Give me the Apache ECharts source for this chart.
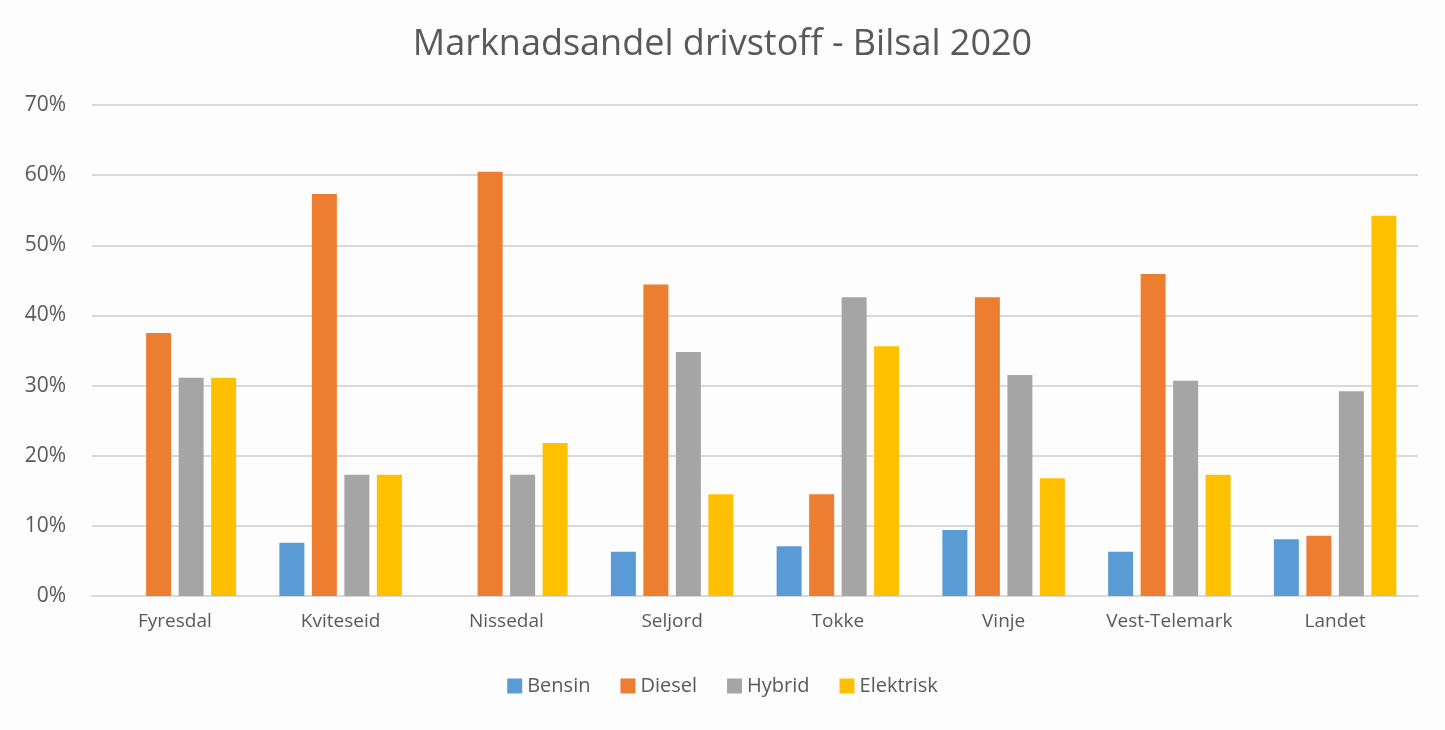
<!DOCTYPE html>
<html>
<head>
<meta charset="utf-8">
<title>Marknadsandel drivstoff - Bilsal 2020</title>
<script src="https://cdn.jsdelivr.net/npm/echarts@6/dist/echarts.min.js"></script>
<style>
  html, body { margin: 0; padding: 0; background: #fdfdfd; }
  #chart { width: 1445px; height: 730px; }
</style>
</head>
<body>
<div id="chart"></div>
<script>
// data, in percent
const kommuner = ['Fyresdal', 'Kviteseid', 'Nissedal', 'Seljord', 'Tokke', 'Vinje', 'Vest-Telemark', 'Landet']
const bensin = [0, 7.6, 0, 6.3, 7.1, 9.4, 6.3, 8.1]
const diesel = [37.5, 57.3, 60.5, 44.4, 14.5, 42.6, 45.9, 8.6]
const hybrid = [31.1, 17.3, 17.3, 34.8, 42.6, 31.5, 30.7, 29.2]
const elektrisk = [31.1, 17.3, 21.8, 14.5, 35.6, 16.8, 17.3, 54.2]
const yTicks = [0, 10, 20, 30, 40, 50, 60, 70]

const textColor = '#595959'
const font = 'Open Sans, Liberation Sans, sans-serif'

const chart = echarts.init(document.getElementById('chart'))

const mkSeries = (name, data, color) => ({
  name: name,
  type: 'bar',
  data: data,
  barWidth: 25,
  barGap: '30%',
  itemStyle: { color: color },
  emphasis: { disabled: true }
})

const option = {
  backgroundColor: '#fdfdfd',
  animation: false,
  title: {
    text: 'Marknadsandel drivstoff - Bilsal 2020',
    left: 'center',
    top: 22,
    textStyle: { color: textColor, fontSize: 36, fontWeight: 'normal', fontFamily: font }
  },
  legend: {
    bottom: 29,
    left: 'center',
    itemWidth: 15,
    itemHeight: 15,
    itemGap: 30,
    icon: 'rect',
    textStyle: { color: textColor, fontSize: 20, fontFamily: font }
  },
  grid: {
    left: 92,
    right: 27,
    top: 105,
    bottom: 134
  },
  xAxis: {
    type: 'category',
    data: kommuner,
    axisLine: { lineStyle: { color: '#d9d9d9', width: 2 } },
    axisTick: { show: false },
    axisLabel: { color: textColor, fontSize: 19, fontFamily: font, margin: 16, interval: 0 }
  },
  yAxis: {
    type: 'value',
    min: yTicks[0],
    max: yTicks[yTicks.length - 1],
    interval: 10,
    axisLine: { show: false },
    axisTick: { show: false },
    splitLine: { lineStyle: { color: '#d9d9d9', width: 2 } },
    axisLabel: {
      color: textColor,
      fontSize: 21,
      fontFamily: font,
      margin: 26,
      formatter: '{value}%'
    }
  },
  series: [
    mkSeries('Bensin', bensin, '#5b9bd5'),
    mkSeries('Diesel', diesel, '#ed7d31'),
    mkSeries('Hybrid', hybrid, '#a5a5a5'),
    mkSeries('Elektrisk', elektrisk, '#ffc000')
  ]
}

chart.setOption(option)
</script>
</body>
</html>
